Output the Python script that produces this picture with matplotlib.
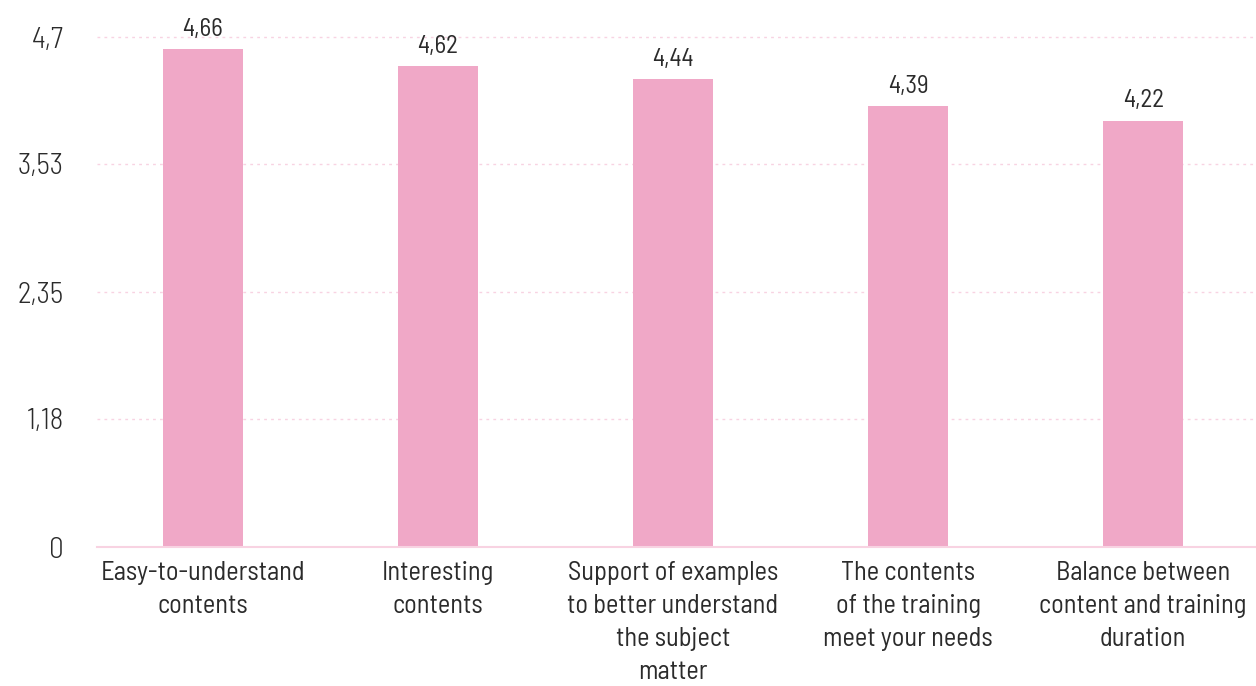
import matplotlib
matplotlib.use('Agg')
from matplotlib import pyplot as plt
from matplotlib import font_manager

categories = ['Easy-to-understand\ncontents', 'Interesting\ncontents',
              'Support of examples\nto better understand\nthe subject\nmatter',
              'The contents\nof the training\nmeet your needs',
              'Balance between\ncontent and training\nduration']
scores = [4.66, 4.62, 4.44, 4.39, 4.22]
# bar heights as drawn in the picture (they sit a little below the printed scores)
bar_heights = [4.59, 4.43, 4.31, 4.06, 3.93]
y_ticks = [0, 1.18, 2.35, 3.53, 4.7]
y_tick_labels = ['0', '1,18', '2,35', '3,53', '4,7']

BAR = '#f0a8c7'
GRID = '#f8d3e2'
TEXT = '#2b2b2b'

names = {f.name for f in font_manager.fontManager.ttflist}
font = 'DejaVu Sans'
for cand in ['Barlow Semi Condensed', 'Barlow Condensed', 'Fira Sans Condensed', 'Pragati Narrow']:
    if cand in names:
        font = cand
        break
plt.rcParams['font.family'] = [font, 'DejaVu Sans']

fig = plt.figure(figsize=(12.56, 6.86), dpi=100)
ax = fig.add_axes([0.0772, 0.2026, 0.9228, 0.7434])

x = list(range(len(categories)))
ax.bar(x, bar_heights, width=0.34, color=BAR, zorder=2)

for xi, h, s in zip(x, bar_heights, scores):
    ax.annotate('{:.2f}'.format(s).replace('.', ','), (xi, h), xytext=(0, 6),
                textcoords='offset points', ha='center', va='bottom',
                fontsize=18, fontweight=400, color=TEXT, annotation_clip=False)

ax.set_xlim(-0.45, 4.48)
ax.set_ylim(0, 4.7)
ax.set_yticks(y_ticks)
ax.set_yticklabels(y_tick_labels, fontsize=21, fontweight=300, color=TEXT)
ax.set_xticks(x)
ax.set_xticklabels(categories, fontsize=19, color=TEXT, linespacing=1.47, va='top')
ax.tick_params(axis='y', length=0, pad=24)
ax.tick_params(axis='x', length=0, pad=10)

for t in y_ticks[1:]:
    ax.axhline(t, color=GRID, linestyle=(0, (2, 3)), linewidth=1, zorder=1, clip_on=False)

for s in ['top', 'right', 'left']:
    ax.spines[s].set_visible(False)
ax.spines['bottom'].set_color(GRID)
ax.spines['bottom'].set_linewidth(1.5)

fig.savefig('out.png', dpi=100)
